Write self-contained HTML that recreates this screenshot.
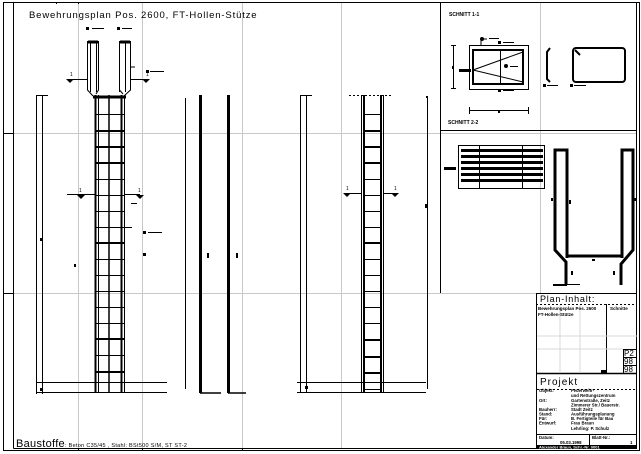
<!DOCTYPE html>
<html><head><meta charset="utf-8"><style>
html,body{margin:0;padding:0;background:#fff}
svg{display:block}
text{font-family:"Liberation Sans",sans-serif;fill:#000}
</style></head><body>
<svg width="641" height="454" viewBox="0 0 641 454" xmlns="http://www.w3.org/2000/svg">
<rect width="641" height="454" fill="#fff"/>
<g stroke="#c8c8c8" stroke-width="1">
<line x1="78.5" y1="3" x2="78.5" y2="448"/>
<line x1="142.5" y1="3" x2="142.5" y2="448"/>
<line x1="242.5" y1="3" x2="242.5" y2="448"/>
<line x1="341.5" y1="3" x2="341.5" y2="448"/>
<line x1="540.5" y1="3" x2="540.5" y2="293"/>
<line x1="13" y1="133.5" x2="440" y2="133.5"/>
<line x1="13" y1="293.5" x2="536" y2="293.5"/>
<line x1="440" y1="133.5" x2="637" y2="133.5"/>
</g>
<g stroke="#000" fill="none" stroke-width="1">
<rect x="3.5" y="2.5" width="636" height="448"/>
<line x1="13.5" y1="2.5" x2="13.5" y2="448.5"/>
<line x1="13.5" y1="448.5" x2="636.5" y2="448.5"/>
<line x1="636.5" y1="3" x2="636.5" y2="448.5"/>
<line x1="440.5" y1="3" x2="440.5" y2="293"/>
<line x1="440" y1="130.5" x2="637" y2="130.5"/>
<line x1="3" y1="133.5" x2="13" y2="133.5"/>
<line x1="3" y1="293.5" x2="13" y2="293.5"/>
<line x1="78.5" y1="2" x2="78.5" y2="4"/>
<line x1="78.5" y1="448" x2="78.5" y2="451"/>
<line x1="142.5" y1="448" x2="142.5" y2="451"/>
<line x1="242.5" y1="448" x2="242.5" y2="451"/>
<line x1="56.5" y1="2" x2="56.5" y2="4"/>
</g>
<text x="29" y="18" font-size="9.5" letter-spacing="0.85">Bewehrungsplan Pos. 2600, FT-Hollen-Stütze</text>
<text x="16" y="447" font-size="11" letter-spacing="0.3">Baustoffe<tspan font-size="5.5">: Beton C35/45 ,  Stahl: BSt500 S/M, ST ST-2</tspan></text>

<g stroke="#000" fill="none">
<path d="M87.5 41 V90 L93 96 M98.5 41 V90 L96 94" stroke-width="1"/>
<path d="M90.5 41 V92 M96.5 41 V92" stroke-width="1"/>
<path d="M88 42 H98" stroke-width="3"/>
<path d="M119.5 41 V92 M125.5 41 V92" stroke-width="1"/>
<path d="M130.5 41 V90 L124 96 M119.5 90 L123 94" stroke-width="1"/>
<path d="M120 42 H130" stroke-width="3"/>
<line x1="130" y1="67" x2="135" y2="67" stroke-width="1"/>
<line x1="93" y1="97" x2="126" y2="97" stroke-width="3"/>
<line x1="95.5" y1="95" x2="95.5" y2="393" stroke-width="2"/>
<line x1="98.5" y1="95" x2="98.5" y2="393" stroke-width="1"/>
<line x1="109" y1="95" x2="109" y2="393" stroke-width="1.5"/>
<line x1="121.5" y1="95" x2="121.5" y2="393" stroke-width="2"/>
<line x1="124.5" y1="95" x2="124.5" y2="393" stroke-width="1"/>
<g stroke-width="1">
<line x1="95" y1="114.5" x2="124" y2="114.5"/><line x1="95" y1="179.5" x2="124" y2="179.5"/>
<line x1="95" y1="195.5" x2="124" y2="195.5"/><line x1="95" y1="211.5" x2="124" y2="211.5"/>
<line x1="95" y1="227.5" x2="132" y2="227.5"/><line x1="95" y1="259.5" x2="124" y2="259.5"/>
<line x1="95" y1="275.5" x2="124" y2="275.5"/><line x1="95" y1="291.5" x2="124" y2="291.5"/>
<line x1="95" y1="307.5" x2="124" y2="307.5"/><line x1="95" y1="323.5" x2="124" y2="323.5"/>
<line x1="95" y1="355.5" x2="124" y2="355.5"/>
</g>
<g stroke-width="2">
<line x1="95" y1="131" x2="124" y2="131"/><line x1="95" y1="147" x2="124" y2="147"/>
<line x1="95" y1="163" x2="124" y2="163"/><line x1="95" y1="243" x2="124" y2="243"/>
<line x1="95" y1="339" x2="124" y2="339"/><line x1="95" y1="372" x2="124" y2="372"/>
</g>
<line x1="36" y1="382.5" x2="167" y2="382.5" stroke-width="1" />
<line x1="36" y1="392.5" x2="167" y2="392.5" stroke-width="1"/>
<line x1="36.5" y1="95" x2="36.5" y2="394" stroke-width="1"/>
<line x1="42.5" y1="95" x2="42.5" y2="394" stroke-width="1"/>
<line x1="36" y1="95.5" x2="48" y2="95.5"/>
<line x1="131" y1="203.5" x2="137" y2="203.5"/>
<line x1="67" y1="79.5" x2="88" y2="79.5"/><line x1="131" y1="79.5" x2="146" y2="79.5"/>
<line x1="67" y1="194.5" x2="95" y2="194.5"/><line x1="124" y1="194.5" x2="140" y2="194.5"/>
</g>
<g fill="#000">
<path d="M66 79h8l-4 4z"/><path d="M142 79h8l-4 4z"/>
<path d="M77 195h8l-4 4z"/><path d="M136 195h8l-4 4z"/>
<rect x="86" y="27" width="3" height="3"/><rect x="92" y="28" width="12" height="1"/>
<rect x="117" y="27" width="3" height="3"/><rect x="122" y="28" width="10" height="1"/>
<rect x="146" y="70" width="3" height="3"/><rect x="150" y="71" width="14" height="1"/>
<rect x="143" y="231" width="3" height="3"/><rect x="148" y="232" width="14" height="1"/>
<rect x="40" y="238" width="3" height="3"/><rect x="40" y="388" width="3" height="3"/>
<rect x="74" y="264" width="2" height="3"/>
<rect x="143" y="253" width="3" height="3"/>
</g>
<text x="70" y="76" font-size="5">1</text><text x="146" y="76" font-size="5">1</text>
<text x="79" y="192" font-size="5">1</text><text x="138" y="192" font-size="5">1</text>

<g stroke="#000" fill="none">
<line x1="185.5" y1="98" x2="185.5" y2="389" stroke-width="1"/>
<line x1="200.5" y1="95" x2="200.5" y2="393" stroke-width="3"/>
<line x1="228.5" y1="95" x2="228.5" y2="393" stroke-width="3"/>
<line x1="200" y1="393" x2="221" y2="393" stroke-width="1.5"/>
<line x1="228" y1="393" x2="246" y2="393" stroke-width="1.5"/>
</g>
<rect x="207" y="253" width="2" height="5" fill="#000"/>
<rect x="236" y="253" width="2" height="5" fill="#000"/>

<g stroke="#000" fill="none">
<line x1="300.5" y1="95" x2="300.5" y2="393"/>
<line x1="306.5" y1="95" x2="306.5" y2="393"/>
<line x1="300" y1="95.5" x2="312" y2="95.5"/>
<line x1="361.5" y1="95" x2="361.5" y2="393"/>
<line x1="364" y1="95" x2="364" y2="393" stroke-width="2"/>
<line x1="381" y1="95" x2="381" y2="393" stroke-width="2"/>
<line x1="383.5" y1="95" x2="383.5" y2="393"/>
<line x1="349" y1="95.5" x2="393" y2="95.5" stroke-dasharray="2 2"/>
<g stroke-width="1">
<line x1="364" y1="114.5" x2="381" y2="114.5"/><line x1="364" y1="179.5" x2="381" y2="179.5"/>
<line x1="364" y1="195.5" x2="381" y2="195.5"/><line x1="364" y1="211.5" x2="381" y2="211.5"/>
<line x1="364" y1="227.5" x2="381" y2="227.5"/><line x1="364" y1="259.5" x2="381" y2="259.5"/>
<line x1="364" y1="275.5" x2="381" y2="275.5"/><line x1="364" y1="291.5" x2="381" y2="291.5"/>
<line x1="364" y1="307.5" x2="381" y2="307.5"/><line x1="364" y1="323.5" x2="381" y2="323.5"/>
<line x1="364" y1="389.5" x2="381" y2="389.5"/>
</g>
<g stroke-width="2">
<line x1="364" y1="131" x2="381" y2="131"/><line x1="364" y1="147" x2="381" y2="147"/>
<line x1="364" y1="163" x2="381" y2="163"/><line x1="364" y1="243" x2="381" y2="243"/>
<line x1="364" y1="340" x2="381" y2="340"/><line x1="364" y1="357" x2="381" y2="357"/>
<line x1="364" y1="373" x2="381" y2="373"/>
</g>
<line x1="427.5" y1="97" x2="427.5" y2="389"/>
<line x1="297" y1="382.5" x2="426" y2="382.5"/>
<line x1="297" y1="392.5" x2="426" y2="392.5"/>
<line x1="344" y1="193.5" x2="361" y2="193.5"/><line x1="383" y1="193.5" x2="398" y2="193.5"/>
</g>
<g fill="#000">
<path d="M343 193h8l-4 4z"/><path d="M391 193h8l-4 4z"/>
<rect x="425" y="204" width="3" height="4"/><rect x="305" y="386" width="3" height="3"/>
<rect x="426" y="96" width="2" height="2"/>
</g>
<text x="346" y="190" font-size="5">1</text><text x="394" y="190" font-size="5">1</text>

<text x="449" y="16" font-size="5" font-weight="bold">SCHNITT 1-1</text>
<g stroke="#000" fill="none">
<rect x="469.5" y="45.5" width="59" height="44"/>
<rect x="473" y="50" width="50" height="34" stroke-width="2"/>
<line x1="500.5" y1="50" x2="500.5" y2="84"/>
<line x1="473" y1="70" x2="523" y2="52"/><line x1="473" y1="70" x2="523" y2="82"/>
<line x1="453.5" y1="45" x2="453.5" y2="89"/>
<line x1="451" y1="45.5" x2="456" y2="45.5"/><line x1="451" y1="88.5" x2="456" y2="88.5"/>
<line x1="469.5" y1="110.5" x2="528.5" y2="110.5"/>
<line x1="469.5" y1="107" x2="469.5" y2="114"/><line x1="528.5" y1="107" x2="528.5" y2="114"/>
<line x1="481" y1="39" x2="481" y2="45"/><line x1="481" y1="39" x2="487" y2="39"/>
<path d="M550 48 L547 52 V79 L550 82" stroke-width="2"/>
<rect x="573" y="48" width="52" height="34" rx="3" stroke-width="2"/>
<line x1="575" y1="50" x2="580" y2="55" stroke-width="2"/>
</g>
<g fill="#000">
<circle cx="482" cy="39" r="2"/><rect x="489" y="38" width="10" height="1"/>
<rect x="498" y="41" width="3" height="3"/><rect x="503" y="42" width="11" height="1"/>
<rect x="498" y="89" width="3" height="3"/><rect x="503" y="90" width="11" height="1"/>
<circle cx="506" cy="66" r="2"/><rect x="510" y="66" width="8" height="1"/>
<rect x="459" y="69" width="12" height="3"/><rect x="452" y="66" width="2" height="3"/>
<rect x="498" y="111" width="2" height="2"/>
<rect x="543" y="84" width="3" height="3"/><rect x="547" y="85" width="11" height="1"/>
<rect x="570" y="84" width="3" height="3"/><rect x="574" y="85" width="12" height="1"/>
</g>
<text x="448" y="124" font-size="5" font-weight="bold">SCHNITT 2-2</text>

<g stroke="#000" fill="none">
<rect x="458.5" y="145.5" width="86" height="43"/>
<line x1="479.5" y1="145" x2="479.5" y2="188"/>
<line x1="522.5" y1="145" x2="522.5" y2="188"/>
</g>
<g fill="#000">
<rect x="461" y="149" width="82" height="3"/><rect x="461" y="155" width="82" height="3"/>
<rect x="461" y="161" width="82" height="3"/><rect x="461" y="167" width="82" height="3"/>
<rect x="461" y="173" width="82" height="3"/><rect x="461" y="179" width="82" height="3"/>
<rect x="444" y="167" width="12" height="3"/>
</g>
<g stroke="#000" fill="none" stroke-width="3">
<path d="M567 258 V150 H555 V250 L566 262 V285"/>
<path d="M567 256 H622"/>
<path d="M622 258 V150 H633 V250 L621 264 V285"/>
</g>
<g fill="#000">
<rect x="551" y="198" width="2" height="3"/><rect x="569" y="200" width="2" height="4"/>
<rect x="621" y="200" width="2" height="4"/><rect x="634" y="198" width="2" height="3"/>
<rect x="592" y="259" width="3" height="2"/><rect x="571" y="271" width="2" height="4"/>
<rect x="613" y="271" width="2" height="4"/>
<rect x="553" y="284" width="14" height="2"/><rect x="567" y="284" width="13" height="1"/>
</g>

<g stroke="#000" fill="none">
<rect x="536.5" y="293.5" width="100" height="155"/>
<line x1="536" y1="304.5" x2="637" y2="304.5" stroke-dasharray="2 2"/>
<line x1="606.5" y1="304" x2="606.5" y2="373"/>
<line x1="537" y1="373.5" x2="637" y2="373.5" stroke-width="1.5"/>
<line x1="537" y1="389.5" x2="637" y2="389.5" stroke-dasharray="2 2"/>
<line x1="537" y1="434.5" x2="637" y2="434.5"/>
<line x1="589.5" y1="434" x2="589.5" y2="445"/>
<rect x="623.5" y="349.5" width="13" height="24"/>
<line x1="623" y1="357.5" x2="637" y2="357.5"/><line x1="623" y1="365.5" x2="637" y2="365.5"/>
</g>
<g stroke="#d8d8d8">
<line x1="537" y1="336" x2="637" y2="336"/><line x1="537" y1="349" x2="623" y2="349"/>
<line x1="560" y1="305" x2="560" y2="373"/><line x1="580" y1="305" x2="580" y2="373"/>
</g>
<text x="540" y="302" font-size="9" letter-spacing="0.8">Plan-Inhalt:</text>
<text x="538" y="310" font-size="4.5" font-weight="bold">Bewehrungsplan Pos. 2600</text>
<text x="610" y="310" font-size="4.5" font-weight="bold">Schnitte</text>
<text x="538" y="316" font-size="4.5" font-weight="bold">FT-Hollen-Stütze</text>
<text x="624" y="356" font-size="8">P2</text>
<text x="624" y="364" font-size="8">98</text>
<text x="624" y="372" font-size="8">98</text>
<rect x="601" y="370" width="5" height="3" fill="#000"/>
<text x="540" y="385" font-size="10" letter-spacing="1">Projekt</text>
<g font-size="4.3" font-weight="bold">
<text x="539" y="392">Objekt:</text><text x="571" y="392">Feuerwehr-</text>
<text x="571" y="397">und Rettungszentrum</text>
<text x="539" y="402">Ort:</text><text x="571" y="402">Gartenstraße, Zeitz</text>
<text x="571" y="406.5">Zimmerer Str./ Bauerstr.</text>
<text x="539" y="411">Bauherr:</text><text x="571" y="411">Stadt Zeitz</text>
<text x="539" y="415.5">Stand:</text><text x="571" y="415.5">Ausführungsplanung</text>
<text x="539" y="420">Für:</text><text x="571" y="420">B. Fertigteile für Bau</text>
<text x="539" y="424.5">Entwurf:</text><text x="571" y="424.5">Frau Braun</text>
<text x="571" y="430">Lehrling: P. Schulz</text>
<text x="539" y="439">Datum:</text><text x="592" y="439">Blatt-Nr.:</text>
<text x="560" y="444">05.03.1998</text><text x="630" y="444">1</text>
</g>
<rect x="537" y="445" width="99" height="4" fill="#000"/>
<text x="539" y="448.5" font-size="4" font-weight="bold" style="fill:#fff">Alexander Braun, Schr.-Nr. 0001</text>
</svg>
</body></html>
